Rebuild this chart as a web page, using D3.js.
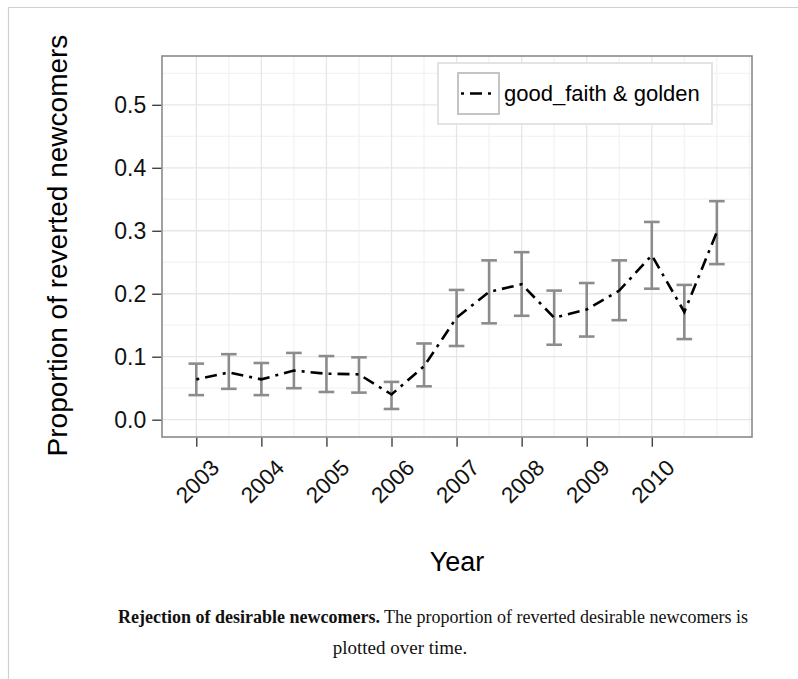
<!DOCTYPE html>
<html>
<head>
<meta charset="utf-8">
<script src="https://cdn.jsdelivr.net/npm/d3@7"></script>
<style>
  body { margin: 0; background: #fff; }
  svg text { font-family: "Liberation Sans", Arial, sans-serif; }
</style>
</head>
<body>
<div id="chart"></div>
<script>
// data
const years = [2003, 2003.5, 2004, 2004.5, 2005, 2005.5, 2006, 2006.5, 2007, 2007.5, 2008, 2008.5, 2009, 2009.5, 2010, 2010.5, 2011];
const proportion = [0.064, 0.075, 0.064, 0.078, 0.073, 0.072, 0.040, 0.085, 0.162, 0.203, 0.215, 0.162, 0.175, 0.205, 0.261, 0.171, 0.298];
const lower = [0.039, 0.049, 0.039, 0.050, 0.044, 0.043, 0.017, 0.053, 0.117, 0.153, 0.165, 0.119, 0.132, 0.158, 0.208, 0.128, 0.247];
const upper = [0.089, 0.104, 0.090, 0.106, 0.101, 0.099, 0.060, 0.121, 0.206, 0.253, 0.266, 0.205, 0.217, 0.253, 0.314, 0.214, 0.347];

const xTicks = [2003, 2004, 2005, 2006, 2007, 2008, 2009, 2010];
const xMinor = [2003.5, 2004.5, 2005.5, 2006.5, 2007.5, 2008.5, 2009.5, 2010.5, 2011, 2011.5];
const yTicks = [0, 0.1, 0.2, 0.3, 0.4, 0.5];
const yMinor = [0.05, 0.15, 0.25, 0.35, 0.45, 0.55];
const seriesName = "good_faith & golden";

const W = 798, H = 679;
const panel = { left: 162, top: 56, right: 752, bottom: 437 };

const svg = d3.select("#chart").append("svg")
    .attr("width", W)
    .attr("height", H);

// outer frame lines
svg.append("line").attr("x1", 8).attr("x2", W).attr("y1", 7.5).attr("y2", 7.5)
    .attr("stroke", "#d0d0d0").attr("stroke-width", 1.2);
svg.append("line").attr("x1", 8.5).attr("x2", 8.5).attr("y1", 7).attr("y2", H)
    .attr("stroke", "#d0d0d0").attr("stroke-width", 1.2);

const x = d3.scaleLinear()
    .domain([2002.473, 2011.54])
    .range([panel.left, panel.right]);

const y = d3.scaleLinear()
    .domain([-0.0275, 0.5775])
    .range([panel.bottom, panel.top]);

const plot = svg.append("g");

// grid
plot.selectAll(".hminor").data(yMinor).join("line")
    .attr("x1", panel.left).attr("x2", panel.right)
    .attr("y1", d => y(d)).attr("y2", d => y(d))
    .attr("stroke", "#f3f3f3").attr("stroke-width", 1.3);
plot.selectAll(".vminor").data(xMinor.filter(d => x(d) < panel.right)).join("line")
    .attr("x1", d => x(d)).attr("x2", d => x(d))
    .attr("y1", panel.top).attr("y2", panel.bottom)
    .attr("stroke", "#f3f3f3").attr("stroke-width", 1.3);
plot.selectAll(".hmajor").data(yTicks).join("line")
    .attr("x1", panel.left).attr("x2", panel.right)
    .attr("y1", d => y(d)).attr("y2", d => y(d))
    .attr("stroke", "#e6e6e6").attr("stroke-width", 1.3);
plot.selectAll(".vmajor").data(xTicks).join("line")
    .attr("x1", d => x(d)).attr("x2", d => x(d))
    .attr("y1", panel.top).attr("y2", panel.bottom)
    .attr("stroke", "#e6e6e6").attr("stroke-width", 1.3);

// error bars
const capHalf = 0.12;
const bars = plot.append("g").attr("stroke", "#8c8c8c").attr("stroke-width", 2.6);
years.forEach((yr, i) => {
    bars.append("line").attr("x1", x(yr)).attr("x2", x(yr))
        .attr("y1", y(lower[i])).attr("y2", y(upper[i]));
    bars.append("line").attr("x1", x(yr - capHalf)).attr("x2", x(yr + capHalf))
        .attr("y1", y(lower[i])).attr("y2", y(lower[i]));
    bars.append("line").attr("x1", x(yr - capHalf)).attr("x2", x(yr + capHalf))
        .attr("y1", y(upper[i])).attr("y2", y(upper[i]));
});

// line
const dotdash = "3,6,12,6";
plot.append("path")
    .datum(years.map((yr, i) => [yr, proportion[i]]))
    .attr("fill", "none")
    .attr("stroke", "#000")
    .attr("stroke-width", 2.6)
    .attr("stroke-dasharray", dotdash)
    .attr("d", d3.line().x(d => x(d[0])).y(d => y(d[1])));

// panel border
svg.append("rect")
    .attr("x", panel.left).attr("y", panel.top)
    .attr("width", panel.right - panel.left).attr("height", panel.bottom - panel.top)
    .attr("fill", "none").attr("stroke", "#8a8a8a").attr("stroke-width", 1.6);

// y axis
const yAxis = svg.append("g")
    .attr("transform", `translate(${panel.left - 0.8},0)`)
    .call(d3.axisLeft(y).tickValues(yTicks).tickFormat(d3.format(".1f")).tickSize(9).tickPadding(6));
yAxis.select(".domain").remove();
yAxis.selectAll(".tick line").attr("stroke", "#333").attr("stroke-width", 1.3);
yAxis.selectAll(".tick text").attr("font-size", 23).attr("fill", "#111")
    .attr("font-family", "Liberation Sans, Arial, sans-serif");

// x axis
const xAxis = svg.append("g")
    .attr("transform", `translate(0,${panel.bottom + 0.8})`)
    .call(d3.axisBottom(x).tickValues(xTicks).tickFormat(d3.format("d")).tickSize(9));
xAxis.select(".domain").remove();
xAxis.selectAll(".tick line").attr("stroke", "#333").attr("stroke-width", 1.3);
xAxis.selectAll(".tick text")
    .attr("font-size", 22.5).attr("fill", "#111")
    .attr("font-family", "Liberation Sans, Arial, sans-serif")
    .attr("text-anchor", "end")
    .attr("dy", null)
    .attr("dominant-baseline", "central")
    .attr("y", 0)
    .attr("transform", "translate(18.5,26) rotate(-45)");

// axis titles
svg.append("text")
    .attr("transform", `translate(67,${(panel.top + panel.bottom) / 2 - 1}) rotate(-90)`)
    .attr("text-anchor", "middle")
    .attr("font-size", 28)
    .attr("fill", "#000")
    .text("Proportion of reverted newcomers");

svg.append("text")
    .attr("x", (panel.left + panel.right) / 2)
    .attr("y", 571)
    .attr("text-anchor", "middle")
    .attr("font-size", 27)
    .attr("fill", "#000")
    .text("Year");

// legend
const legend = svg.append("g").attr("transform", "translate(438,63)");
legend.append("rect").attr("width", 274).attr("height", 61)
    .attr("fill", "#fff").attr("stroke", "#e3e3e3").attr("stroke-width", 2);
legend.append("rect").attr("x", 20).attr("y", 10).attr("width", 41).attr("height", 41)
    .attr("fill", "#fff").attr("stroke", "#c4c4c4").attr("stroke-width", 2);
legend.append("line").attr("x1", 23).attr("x2", 58).attr("y1", 30.5).attr("y2", 30.5)
    .attr("stroke", "#000").attr("stroke-width", 2.6).attr("stroke-dasharray", "3,6,12,6");
legend.append("text").attr("x", 66).attr("y", 30.5)
    .attr("dominant-baseline", "central")
    .attr("font-size", 22).attr("fill", "#000")
    .text(seriesName);

// caption
const cap = svg.append("text")
    .attr("x", 433).attr("y", 623)
    .attr("text-anchor", "middle")
    .attr("font-family", "Liberation Serif, Times New Roman, serif")
    .attr("font-size", 18)
    .attr("fill", "#111");
cap.append("tspan").attr("font-weight", "bold").style("font-family", "Liberation Serif, serif").text("Rejection of desirable newcomers.");
cap.append("tspan").style("font-family", "Liberation Serif, serif").text(" The proportion of reverted desirable newcomers is");

svg.append("text")
    .attr("x", 400).attr("y", 654)
    .attr("text-anchor", "middle")
    .style("font-family", "Liberation Serif, Times New Roman, serif")
    .attr("font-size", 19)
    .attr("fill", "#111")
    .text("plotted over time.");
</script>
</body>
</html>
